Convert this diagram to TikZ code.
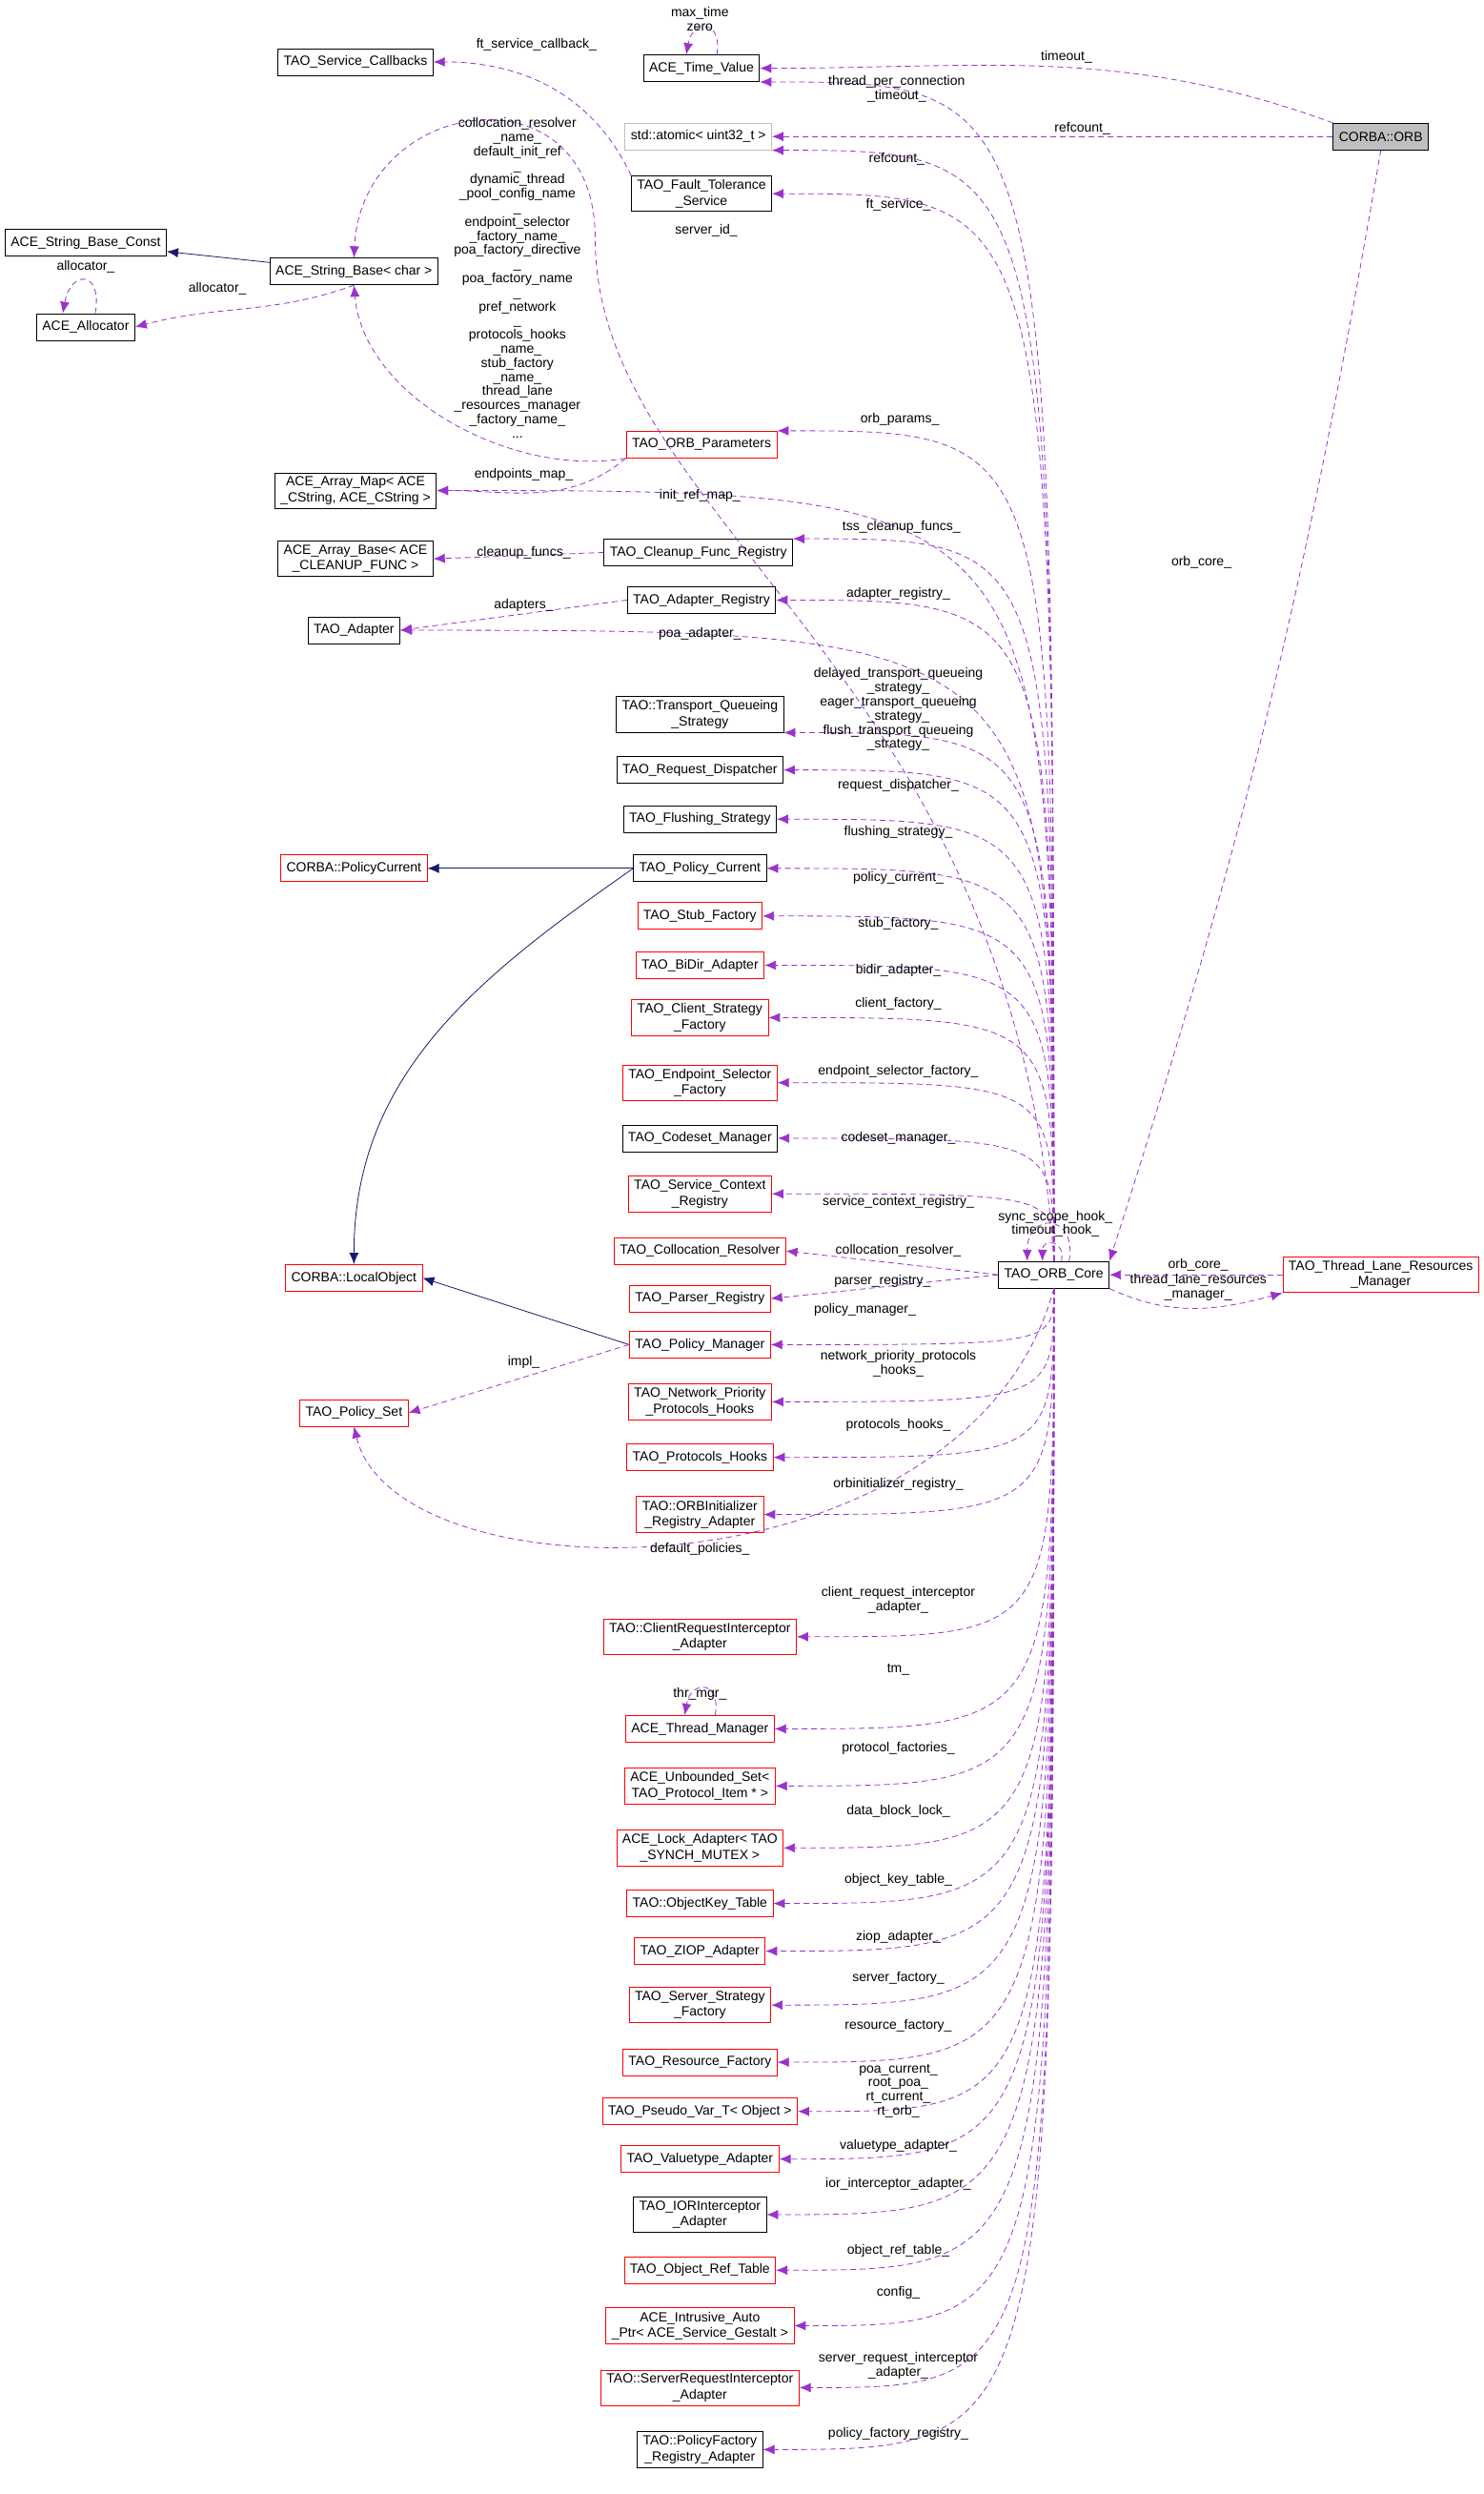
\documentclass[tikz,border=0pt]{standalone}
\usepackage{fontspec}
\setmainfont{Liberation Sans}
\usetikzlibrary{arrows.meta, positioning}
\definecolor{edgepurple}{HTML}{9A32CD}
\definecolor{inhnavy}{HTML}{191970}
\definecolor{boxred}{HTML}{FF0000}

\tikzset{
  cls/.style={draw=black, fill=white, align=center, font=\fontsize{7}{8.2}\selectfont,
    inner xsep=3pt, inner ysep=2pt, minimum height=14pt},
  redcls/.style={cls, draw=boxred},
  member/.style={draw=edgepurple, dashed, dash pattern=on 3pt off 2pt,
    -{Latex[length=6pt,width=5pt]}, fill=none},
  inherit/.style={draw=inhnavy, -{Latex[length=6pt,width=5pt]}},
  lbl/.style={align=center, inner sep=0pt, font=\fontsize{7}{7.4}\selectfont}
}

\begin{document}
\catcode`\_=12
\begin{tikzpicture}[x=0.8326pt, y=0.8326pt]
\useasboundingbox[fill=white] (0,0) rectangle (935,-1571);

% classes
\node[cls, fill=gray!50] (orb) at (870,-86) {CORBA::ORB};
\node[cls] (tv) at (442,-43) {ACE_Time_Value};
\node[cls] (scb) at (224,-39) {TAO_Service_Callbacks};
\node[cls, draw=gray!50] (atom) at (440,-86) {std::atomic< uint32_t >};
\node[cls] (ft) at (442,-122) {TAO_Fault_Tolerance\\_Service};
\node[cls] (sbc) at (54,-153) {ACE_String_Base_Const};
\node[cls] (sb) at (223,-171) {ACE_String_Base< char >};
\node[cls] (alloc) at (54,-206) {ACE_Allocator};
\node[redcls] (params) at (442,-280) {TAO_ORB_Parameters};
\node[cls] (amap) at (224,-309) {ACE_Array_Map< ACE\\_CString, ACE_CString >};
\node[cls] (abase) at (224,-352) {ACE_Array_Base< ACE\\_CLEANUP_FUNC >};
\node[cls] (cfr) at (440,-348) {TAO_Cleanup_Func_Registry};
\node[cls] (areg) at (442,-378) {TAO_Adapter_Registry};
\node[cls] (adap) at (223,-397) {TAO_Adapter};
\node[cls] (tqs) at (441,-450) {TAO::Transport_Queueing\\_Strategy};
\node[cls] (rdis) at (441,-485) {TAO_Request_Dispatcher};
\node[cls] (fstr) at (441,-516) {TAO_Flushing_Strategy};
\node[cls] (pcur) at (441,-547) {TAO_Policy_Current};
\node[redcls] (cpc) at (223,-547) {CORBA::PolicyCurrent};
\node[redcls] (stubf) at (441,-577) {TAO_Stub_Factory};
\node[redcls] (bidir) at (441,-608) {TAO_BiDir_Adapter};
\node[redcls] (csf) at (441,-641) {TAO_Client_Strategy\\_Factory};
\node[redcls] (esf) at (441,-682) {TAO_Endpoint_Selector\\_Factory};
\node[cls] (csm) at (441,-717) {TAO_Codeset_Manager};
\node[redcls] (scr) at (441,-752) {TAO_Service_Context\\_Registry};
\node[redcls] (colr) at (441,-788) {TAO_Collocation_Resolver};
\node[redcls] (parr) at (441,-818) {TAO_Parser_Registry};
\node[redcls] (pmgr) at (441,-847) {TAO_Policy_Manager};
\node[redcls] (npph) at (441,-883) {TAO_Network_Priority\\_Protocols_Hooks};
\node[redcls] (phk) at (441,-918) {TAO_Protocols_Hooks};
\node[redcls] (oira) at (441,-954) {TAO::ORBInitializer\\_Registry_Adapter};
\node[redcls] (lobj) at (223,-805) {CORBA::LocalObject};
\node[redcls] (pset) at (223,-890) {TAO_Policy_Set};
\node[redcls] (cria) at (441,-1031) {TAO::ClientRequestInterceptor\\_Adapter};
\node[redcls] (thrm) at (441,-1089) {ACE_Thread_Manager};
\node[redcls] (uset) at (441,-1125) {ACE_Unbounded_Set<\\TAO_Protocol_Item * >};
\node[redcls] (lock) at (441,-1164) {ACE_Lock_Adapter< TAO\\_SYNCH_MUTEX >};
\node[redcls] (okt) at (441,-1199) {TAO::ObjectKey_Table};
\node[redcls] (ziop) at (441,-1229) {TAO_ZIOP_Adapter};
\node[redcls] (ssf) at (441,-1263) {TAO_Server_Strategy\\_Factory};
\node[redcls] (resf) at (441,-1299) {TAO_Resource_Factory};
\node[redcls] (pvar) at (441,-1330) {TAO_Pseudo_Var_T< Object >};
\node[redcls] (vta) at (441,-1360) {TAO_Valuetype_Adapter};
\node[cls] (iora) at (441,-1395) {TAO_IORInterceptor\\_Adapter};
\node[redcls] (ort) at (441,-1430) {TAO_Object_Ref_Table};
\node[redcls] (iap) at (441,-1465) {ACE_Intrusive_Auto\\_Ptr< ACE_Service_Gestalt >};
\node[redcls] (sria) at (441,-1504) {TAO::ServerRequestInterceptor\\_Adapter};
\node[cls] (pfra) at (441,-1543) {TAO::PolicyFactory\\_Registry_Adapter};
\node[cls] (core) at (664,-803) {TAO_ORB_Core};
\node[redcls] (tlrm) at (870,-803) {TAO_Thread_Lane_Resources\\_Manager};

% inheritance
\draw[inherit] (sb) -- (sbc);
\draw[inherit] (pcur) -- (cpc);
\draw[inherit] (pcur.west) to[out=215,in=90] (lobj.north);
\draw[inherit] (pmgr.west) -- (lobj.east);

% members, not from the core
\draw[member] (orb.north west) to[out=160,in=0] (tv.east);
\draw[member] (orb.west) -- (atom.east);
\draw[member] (orb.south) to[bend left=4] (core.north east);
\draw[member] ([xshift=8pt]tv.north) to[out=80,in=80,looseness=3] ([xshift=-8pt]tv.north);
\draw[member] (ft.north west) to[out=115,in=0] (scb.east);
\draw[member] (params.south west) to[out=190,in=275,looseness=0.9] (sb.south);
\draw[member] (params.south west) to[out=220,in=0] (amap.east);
\draw[member] (sb.south) to[out=-160,in=15] (alloc.east);
\draw[member] ([xshift=5pt]alloc.north) to[out=80,in=80,looseness=3.5] ([xshift=-12pt]alloc.north);
\draw[member] (cfr.west) -- (abase.east);
\draw[member] (areg.west) -- (adap.east);
\draw[member] (pmgr.west) -- (pset.east);
\draw[member] ([xshift=8pt]thrm.north) to[out=80,in=80,looseness=3] ([xshift=-8pt]thrm.north);
\draw[member] (tlrm.west) -- (core.east);
\draw[member] (core.south east) to[out=-25,in=195] (tlrm.south west);

% members of the core
\draw[member] (core.north) .. controls (640,-420) and (375,-330) .. (375,-150)
  .. controls (375,-40) and (228,-60) .. (sb.north);
\draw[member] (core.south) .. controls (610,-1010) and (250,-1010) .. (pset.south);
\draw[member] ([xshift=4pt]core.north) to[out=80,in=90,looseness=3] ([xshift=-6pt]core.north);
\draw[member] ([xshift=8pt]core.north) to[out=80,in=90,looseness=3] ([xshift=-14pt]core.north);
\foreach \tgt in {tv.south east, atom.south east, ft.east, params.north east, amap.east,
    cfr.north east, areg.east, adap.east, tqs.south east, rdis.east, fstr.east, pcur.east,
    stubf.east, bidir.east, csf.east, esf.east, csm.east, scr.east}
  \draw[member] (core.north) .. controls (core.north |- \tgt) .. (\tgt);
\foreach \tgt in {colr, parr}
  \draw[member] (core.west) -- (\tgt.east);
\foreach \tgt in {pmgr, npph, phk, oira, cria, thrm, uset, lock, okt, ziop, ssf, resf,
    pvar, vta, iora, ort, iap, sria, pfra}
  \draw[member] (core.south) .. controls (core.south |- \tgt.east) .. (\tgt.east);

% labels
\foreach \lx/\ly/\txt [count=\i] in {
    441/12/{max_time\\zero}, 672/36/timeout_, 565/56/{thread_per_connection\\_timeout_},
    682/81/refcount_, 565/100/refcount_, 338/28/ft_service_callback_, 566/129/ft_service_,
    445/145/server_id_, 54/168/allocator_, 137/182/allocator_,
    326/175/{collocation_resolver\\_name_\\default_init_ref\\_\\dynamic_thread\\_pool_config_name\\_\\endpoint_selector\\_factory_name_\\poa_factory_directive\\_\\poa_factory_name\\_\\pref_network\\_\\protocols_hooks\\_name_\\stub_factory\\_name_\\thread_lane\\_resources_manager\\_factory_name_\\...},
    567/264/orb_params_, 330/299/endpoints_map_, 441/312/init_ref_map_,
    568/332/tss_cleanup_funcs_, 330/348/cleanup_funcs_, 566/374/adapter_registry_,
    330/381/adapters_, 441/399/poa_adapter_,
    566/447/{delayed_transport_queueing\\_strategy_\\eager_transport_queueing\\_strategy_\\flush_transport_queueing\\_strategy_},
    566/495/request_dispatcher_, 566/524/flushing_strategy_, 566/553/policy_current_,
    566/582/stub_factory_, 566/611/bidir_adapter_, 566/632/client_factory_,
    566/675/endpoint_selector_factory_, 566/717/codeset_manager_,
    566/757/service_context_registry_, 566/788/collocation_resolver_, 556/807/parser_registry_,
    545/825/policy_manager_, 566/859/{network_priority_protocols\\_hooks_},
    566/898/protocols_hooks_, 566/935/orbinitializer_registry_, 441/976/default_policies_,
    330/858/impl_, 566/1008/{client_request_interceptor\\_adapter_}, 566/1052/tm_,
    441/1067/thr_mgr_, 566/1101/protocol_factories_, 566/1141/data_block_lock_,
    566/1184/object_key_table_, 566/1220/ziop_adapter_, 566/1246/server_factory_,
    566/1276/resource_factory_, 566/1317/{poa_current_\\root_poa_\\rt_current_\\rt_orb_},
    566/1352/valuetype_adapter_, 566/1376/ior_interceptor_adapter_,
    566/1418/object_ref_table_, 566/1444/config_,
    566/1490/{server_request_interceptor\\_adapter_}, 566/1533/policy_factory_registry_,
    757/354/orb_core_, 665/771/{sync_scope_hook_\\timeout_hook_}, 755/797/orb_core_,
    755/811/{thread_lane_resources\\_manager_}}
  \node[lbl] (lab\i) at (\lx,-\ly) {\txt};

\end{tikzpicture}
\end{document}
